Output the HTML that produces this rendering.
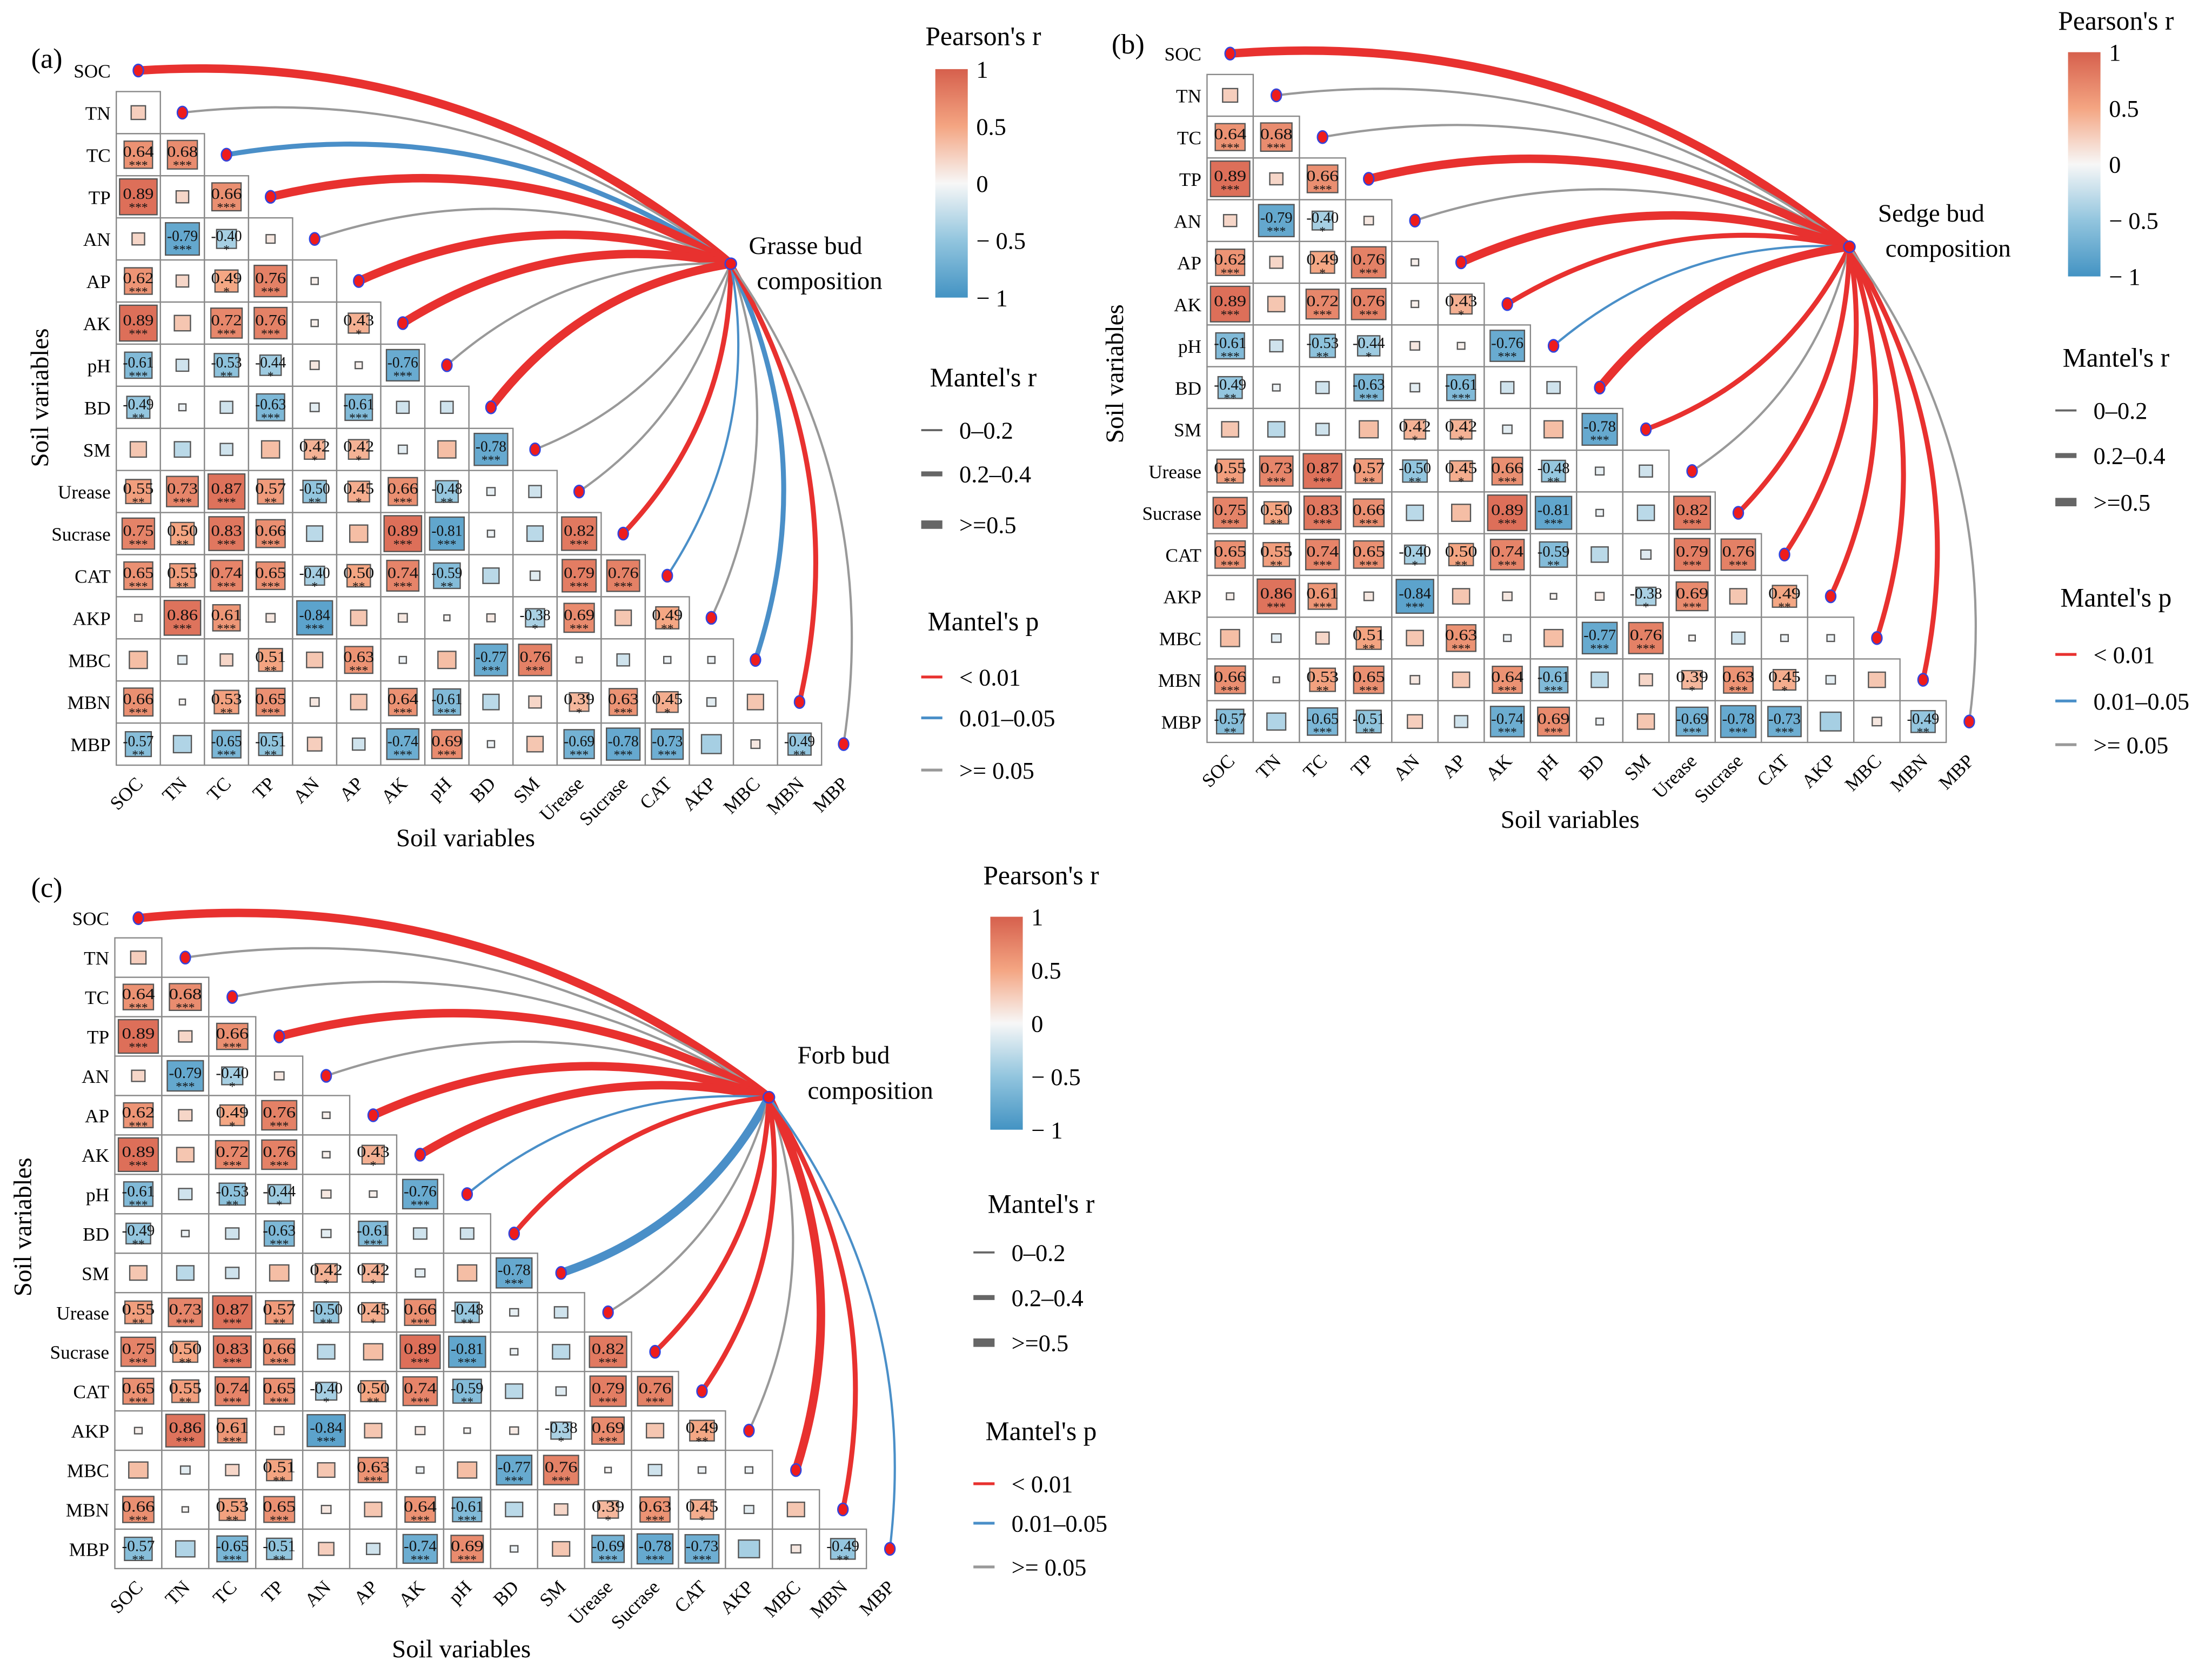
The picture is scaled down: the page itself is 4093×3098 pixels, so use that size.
<!DOCTYPE html>
<html><head><meta charset="utf-8">
<style>
html,body{margin:0;padding:0;background:#fff;}
svg, svg text{font-family:"Liberation Serif","DejaVu Serif",serif;}
</style></head>
<body>
<svg id="fig" width="4093" height="3093" viewBox="0 0 1568 1185" xmlns="http://www.w3.org/2000/svg" font-family="Liberation Serif, DejaVu Serif, serif">
<defs>
<linearGradient id="cbar" x1="0" y1="0" x2="0" y2="1">
<stop offset="0" stop-color="#d6604d"/><stop offset="0.25" stop-color="#f4a582"/>
<stop offset="0.5" stop-color="#f7f7f7"/><stop offset="0.75" stop-color="#92c5de"/>
<stop offset="1" stop-color="#4393c3"/></linearGradient>
</defs>
</svg>
<script>
const vars=["SOC","TN","TC","TP","AN","AP","AK","pH","BD","SM","Urease","Sucrase","CAT","AKP","MBC","MBN","MBP"];
const rVals=[
[],
[0.25],
[0.64,0.68],
[0.89,0.2,0.66],
[0.2,-0.79,-0.40,0.1],
[0.62,0.2,0.49,0.76,0.05],
[0.89,0.3,0.72,0.76,0.05,0.43],
[-0.61,-0.2,-0.53,-0.44,0.1,0.05,-0.76],
[-0.49,-0.05,-0.2,-0.63,-0.1,-0.61,-0.2,-0.2],
[0.3,-0.3,-0.2,0.35,0.42,0.42,-0.1,0.35,-0.78],
[0.55,0.73,0.87,0.57,-0.50,0.45,0.66,-0.48,-0.08,-0.2],
[0.75,0.50,0.83,0.66,-0.3,0.35,0.89,-0.81,-0.05,-0.3,0.82],
[0.65,0.55,0.74,0.65,-0.40,0.50,0.74,-0.59,-0.3,-0.12,0.79,0.76],
[0.05,0.86,0.61,0.1,-0.84,0.3,0.1,0.02,0.08,-0.38,0.69,0.3,0.49],
[0.35,-0.1,0.2,0.51,0.3,0.63,-0.05,0.35,-0.77,0.76,0.02,-0.2,-0.05,-0.05],
[0.66,0.02,0.53,0.65,0.1,0.3,0.64,-0.61,-0.3,0.2,0.39,0.63,0.45,-0.1,0.3],
[-0.57,-0.35,-0.65,-0.51,0.25,-0.2,-0.74,0.69,-0.05,0.3,-0.69,-0.78,-0.73,-0.4,0.1,-0.49]
];
const sigStars=[
[],[""],["***","***"],["***","","***"],["","***","*",""],["***","","*","***",""],
["***","","***","***","","*"],["***","","**","*","","","***"],["**","","","***","","***","",""],
["","","","","*","*","","","***"],["**","***","***","**","**","*","***","**","",""],
["***","**","***","***","","","***","***","","","***"],["***","**","***","***","*","**","***","**","","","***","***"],
["","***","***","","***","","","","","*","***","","**"],["","","","**","","***","","","***","***","","","",""],
["***","","**","***","","","***","***","","","*","***","*","",""],
["**","","***","**","","","***","***","","","***","***","***","","","**"]
];
const pA=["r","g","b","r","g","r","r","g","r","g","g","r","b","g","b","r","g"];
const wA=[3,1,2,3,1,3,3,1,3,1,1,2,1,1,2,2,1];
const pB=["r","g","g","r","g","r","r","b","r","r","g","r","r","r","r","r","g"];
const wB=[3,1,1,3,1,3,2,1,3,2,1,2,2,2,2,2,1];
const pC=["r","g","g","r","g","r","r","b","r","b","g","r","r","g","r","r","b"];
const wC=[3,1,1,3,1,3,3,1,2,3,1,2,2,1,3,2,1];

const NS="http://www.w3.org/2000/svg";
const svg=document.getElementById("fig");
function el(tag,attrs,parent,text){const e=document.createElementNS(NS,tag);for(const k in attrs)e.setAttribute(k,attrs[k]);if(tag==="text")e.setAttribute("font-family","Liberation Serif, DejaVu Serif, serif");if(text!==undefined)e.textContent=text;(parent||svg).appendChild(e);return e;}
function lerp(a,b,t){return a.map((v,i)=>Math.round(v+(b[i]-v)*t));}
function rgb(c){return "rgb("+c.join(",")+")";}
function colorOf(r){const stops=[[67,147,195],[146,197,222],[247,247,247],[244,165,130],[214,96,77]];
 let t=(r+1)/2*4;let i=Math.min(3,Math.floor(t));return rgb(lerp(stops[i],stops[i+1],t-i));}
const pCol={r:"#e8312f",b:"#4a8fc8",g:"#999999"};
const wPx={1:1.6,2:3.5,3:6};

function panel(cfg){
 const g=el("g",{});
 
 
 const {x0,y0,cw,ch}=cfg;
 const xs=i=>x0+i*cw, ys=i=>y0+i*ch;
 el("text",{x:cfg.tag[0],y:cfg.tag[1],"font-size":20},g,cfg.tagText);
 for(let i=1;i<vars.length;i++){
  for(let j=0;j<i;j++){
   const cx=xs(j),cy=ys(i),r=rVals[i][j];
   const c=el("rect",{x:cx-cw/2,y:cy-ch/2,width:cw,height:ch,fill:"#fff",stroke:"#888","stroke-width":0.9},g);
   
   
   const f=0.12+0.82*Math.abs(r);
   const sq=el("rect",{x:cx-cw*f/2,y:cy-ch*f/2,width:cw*f,height:ch*f,fill:colorOf(r),stroke:"#555","stroke-width":0.9},g);
   
   
   const s=sigStars[i][j];
   if(s){
    el("text",{x:cx,y:cy+1.5,"font-size":11,"text-anchor":"middle",fill:"#111","textLength":cw*0.7,"lengthAdjust":"spacingAndGlyphs"},g,r.toFixed(2));
    el("text",{x:cx,y:cy+10.5,"font-size":9,"text-anchor":"middle",fill:"#111"},g,s);
   }
  }
 }
 vars.forEach((v,i)=>{const t=el("text",{x:x0-cw/2-4,y:ys(i)+5,"font-size":13.5,"text-anchor":"end"},g,v);
  });
 const yb=ys(16)+ch/2+6;
 vars.forEach((v,i)=>{const t=el("text",{x:xs(i)+4,y:yb+8,"font-size":13.5,"text-anchor":"end",transform:`rotate(-45 ${xs(i)+4} ${yb+8})`},g,v);
  });
 const xt=el("text",{x:cfg.xt[0],y:cfg.xt[1],"font-size":18,"text-anchor":"middle"},g,"Soil variables");
 
 const yt=el("text",{x:cfg.yt[0],y:cfg.yt[1],"font-size":18,"text-anchor":"middle",transform:`rotate(-90 ${cfg.yt[0]} ${cfg.yt[1]})`},g,"Soil variables");
 
 const [hx,hy]=cfg.hub;const Cx=xs(0),Cy=ys(16);
 vars.forEach((v,i)=>{
  const px=xs(i),py=ys(i);const mx=(px+hx)/2,my=(py+hy)/2;
  const dx=hx-px,dy=hy-py,L=Math.hypot(dx,dy);
  let nx=-dy/L,ny=dx/L; if(nx*(mx-Cx)+ny*(my-Cy)<0){nx=-nx;ny=-ny;}
  const k=0.2*L;
  const p=el("path",{d:`M${px},${py} Q${mx+nx*k},${my+ny*k} ${hx},${hy}`,fill:"none",stroke:pCol[cfg.p[i]],"stroke-width":wPx[cfg.w[i]],"stroke-linecap":"round"},g);
  
  
 });
 vars.forEach((v,i)=>{const c=el("ellipse",{cx:xs(i),cy:ys(i),rx:3.6,ry:4.4,fill:"#ee1c1c",stroke:"#3344dd","stroke-width":1},g);
  });
 const hc=el("circle",{cx:hx,cy:hy,r:4,fill:"#ee1c1c",stroke:"#3344dd","stroke-width":1},g);
 
 el("text",{x:cfg.l1[0],y:cfg.l1[1],"font-size":18,"text-anchor":"middle"},g,cfg.label1);
 el("text",{x:cfg.l2[0],y:cfg.l2[1],"font-size":18,"text-anchor":"middle"},g,"composition");
 const L0=cfg.leg;
 el("text",{x:L0.tx,y:L0.t1,"font-size":19,"text-anchor":"middle"},g,"Pearson's r");
 const cb=el("rect",{x:L0.bx,y:L0.by0,width:23,height:L0.by1-L0.by0,fill:"url(#cbar)"},g);
 
 const labs=["1","0.5","0","\u2212 0.5","\u2212 1"];
 labs.forEach((s,k)=>{const y=L0.by0+(L0.by1-L0.by0)*k/4;
  el("text",{x:L0.bx+29,y:y+6,"font-size":17},g,s);});
 el("text",{x:L0.tx,y:L0.t2,"font-size":19,"text-anchor":"middle"},g,"Mantel's r");
 ["0\u20130.2","0.2\u20130.4",">=0.5"].forEach((s,k)=>{const y=L0.r[k];
  el("line",{x1:L0.lx,x2:L0.lx+15,y1:y,y2:y,stroke:"#666","stroke-width":[1.5,3.5,6][k]},g);
  el("text",{x:L0.lx+27,y:y+6,"font-size":17},g,s);});
 el("text",{x:L0.tx,y:L0.t3,"font-size":19,"text-anchor":"middle"},g,"Mantel's p");
 [["< 0.01","#e8312f"],["0.01\u20130.05","#4a8fc8"],[">= 0.05","#999"]].forEach((s,k)=>{const y=L0.p[k];
  el("line",{x1:L0.lx,x2:L0.lx+15,y1:y,y2:y,stroke:s[1],"stroke-width":2},g);
  el("text",{x:L0.lx+27,y:y+6,"font-size":17},g,s[0]);});
}

panel({name:"panel-a",tagText:"(a)",tag:[22,48],x0:98,y0:50,cw:31.25,ch:29.85,hub:[518,187],
 l1:[571,180],l2:[581,205],label1:"Grasse bud",xt:[330,600],yt:[34,282],p:pA,w:wA,
 leg:{tx:697,t1:32,bx:663,by0:49,by1:211,t2:274,r:[305,336,372],t3:447,p:[480,509,546],lx:653}});
panel({name:"panel-b",tagText:"(b)",tag:[788,38],x0:872,y0:38,cw:32.75,ch:29.6,hub:[1311,175],
 l1:[1369,157],l2:[1381,182],label1:"Sedge bud",xt:[1113,587],yt:[796,265],p:pB,w:wB,
 leg:{tx:1500,t1:21,bx:1466,by0:37,by1:196,t2:260,r:[291,323,356],t3:430,p:[464,497,528],lx:1457}});
panel({name:"panel-c",tagText:"(c)",tag:[22,636],x0:98,y0:651,cw:33.3,ch:27.95,hub:[545,778],
 l1:[598,754],l2:[617,779],label1:"Forb bud",xt:[327,1175],yt:[22,870],p:pC,w:wC,
 leg:{tx:738,t1:627,bx:702,by0:650,by1:801,t2:860,r:[888,920,952],t3:1021,p:[1052,1080,1111],lx:690}});
</script>
</body></html>
